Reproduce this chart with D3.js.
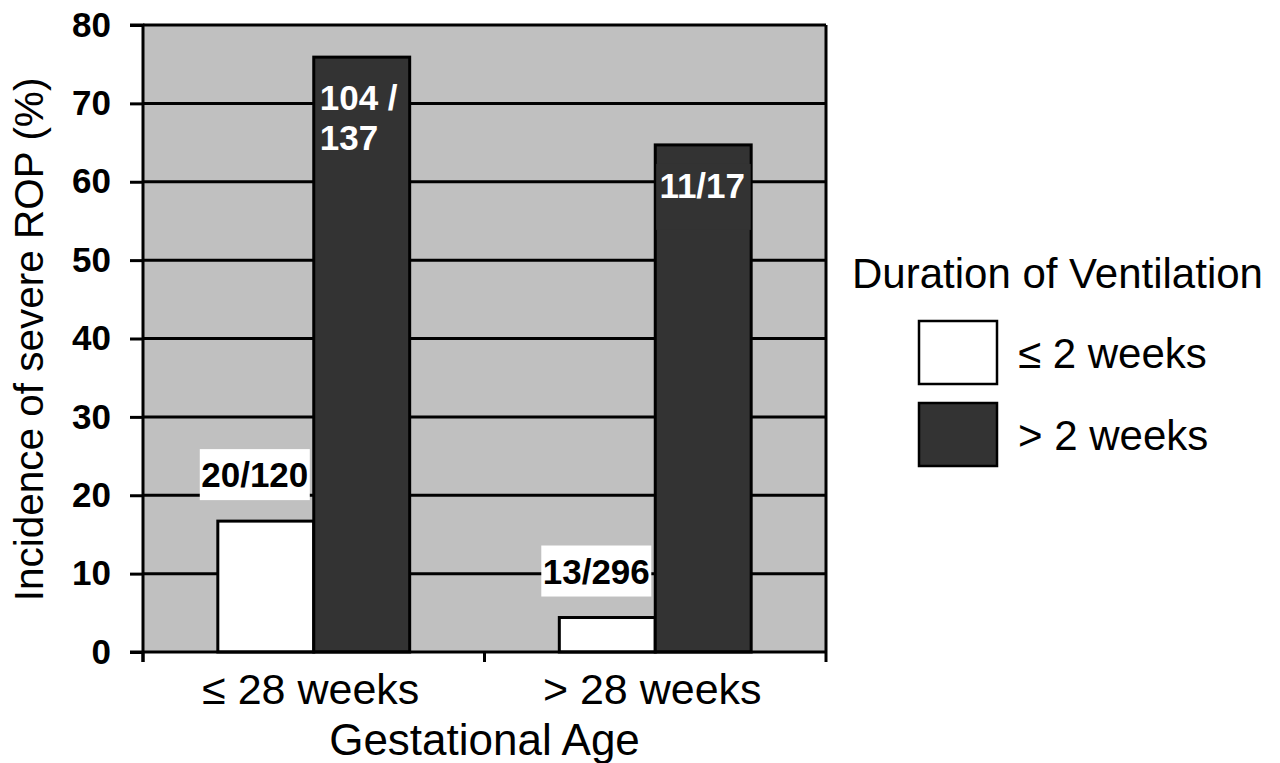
<!DOCTYPE html>
<html><head><meta charset="utf-8">
<script src="https://cdn.jsdelivr.net/npm/d3@7"></script>
<style>body{margin:0;background:#fff}svg{display:block;font-family:"Liberation Sans",Arial,sans-serif}</style>
</head><body><svg id="c" width="1280" height="763"></svg>
<script>
const categories = ["\u2264 28 weeks", "> 28 weeks"];
const seriesNames = ["\u2264 2 weeks", "> 2 weeks"];
const shortVent = [16.7, 4.4];
const longVent = [75.9, 64.7];
const shortLabels = ["20/120", "13/296"];
const longLabels = [["104 /", "137"], ["11/17"]];
const yTicks = [0, 10, 20, 30, 40, 50, 60, 70, 80];
const colors = ["#ffffff", "#333333"];

const svg = d3.select("#c");
const L = 143, R = 826, T = 25, B = 652;
const x = d3.scaleBand().domain(categories).range([L, R]).paddingInner(0).paddingOuter(0);
const y = d3.scaleLinear().domain([0, 80]).range([B, T]);
const xs = d3.scaleBand().domain([0, 1]).range([0, x.bandwidth()]).paddingInner(0).paddingOuter(0.78);

svg.append("rect").attr("x", L).attr("y", T).attr("width", R - L).attr("height", B - T).attr("fill", "#c0c0c0");

// gridlines
svg.append("g").selectAll("line").data(yTicks.filter(d => d > 0)).join("line")
  .attr("x1", L).attr("x2", R).attr("y1", d => y(d)).attr("y2", d => y(d))
  .attr("stroke", "#000").attr("stroke-width", 3);
svg.append("line").attr("x1", R).attr("x2", R).attr("y1", T).attr("y2", B).attr("stroke", "#000").attr("stroke-width", 3);

const data = [];
categories.forEach((c, i) => {
  data.push({c, s: 0, v: shortVent[i]});
  data.push({c, s: 1, v: longVent[i]});
});
svg.append("g").selectAll("rect").data(data).join("rect")
  .attr("x", d => x(d.c) + xs(d.s)).attr("width", xs.bandwidth())
  .attr("y", d => y(d.v)).attr("height", d => B - y(d.v))
  .attr("fill", d => colors[d.s]).attr("stroke", "#000").attr("stroke-width", 3);

// y axis
const yAxis = d3.axisLeft(y).tickValues(yTicks).tickSize(13).tickPadding(19);
const gy = svg.append("g").attr("transform", `translate(${L},0)`).call(yAxis);
gy.select(".domain").attr("stroke-width", 3).attr("d", `M-13,${T}H0V${B + 10}`);
gy.selectAll(".tick line").attr("stroke-width", 3);
gy.selectAll(".tick text").attr("font-size", 35).attr("font-weight", "bold").attr("fill", "#000")
  .attr("font-family", "Liberation Sans, Arial, sans-serif");

// x axis
const xt = d3.scaleLinear().domain([0, 2]).range([L, R]);
const gx = svg.append("g").attr("transform", `translate(0,${B})`);
gx.append("line").attr("x1", L - 13).attr("x2", R).attr("y1", 0).attr("y2", 0).attr("stroke", "#000").attr("stroke-width", 3);
gx.selectAll("line.t").data([0, 1, 2]).join("line").attr("class", "t")
  .attr("x1", d => xt(d)).attr("x2", d => xt(d)).attr("y1", 0).attr("y2", 10)
  .attr("stroke", "#000").attr("stroke-width", 3);
gx.selectAll("text").data(categories).join("text")
  .attr("x", d => x(d) + x.bandwidth() / 2 - 3).attr("y", 52)
  .attr("text-anchor", "middle").attr("font-size", 43).text(d => d);

svg.append("text").attr("x", (L + R) / 2).attr("y", 755).attr("text-anchor", "middle")
  .attr("font-size", 44).text("Gestational Age");
svg.append("text").attr("transform", `translate(43,${(T + B) / 2 + 1}) rotate(-90)`).attr("text-anchor", "middle")
  .attr("font-size", 40.5).text("Incidence of severe ROP (%)");

// short labels (white boxes)
const sl = svg.append("g");
categories.forEach((c, i) => {
  const cx = x(c) + xs(0) + xs.bandwidth() / 2 - 11;
  const ty = y(shortVent[i]) - 47;
  sl.append("rect").attr("x", cx - 55).attr("y", ty - 25).attr("width", 110).attr("height", 51).attr("fill", "#fff");
  sl.append("text").attr("x", cx).attr("y", ty + 13).attr("text-anchor", "middle")
    .attr("font-size", 35).attr("font-weight", "bold").text(shortLabels[i]);
});
// long labels
categories.forEach((c, i) => {
  const lines = longLabels[i];
  const multi = lines.length > 1;
  const ty0 = y(longVent[i]) + 53;
  if (!multi) {
    const bx = x(c) + xs(1);
    svg.append("rect").attr("x", bx + 1).attr("y", ty0 - 34).attr("width", xs.bandwidth() - 1.5).attr("height", 66)
      .attr("fill", colors[1]);
  }
  lines.forEach((t, k) => {
    const tx = multi ? x(c) + xs(1) + 6 : x(c) + xs(1) + xs.bandwidth() / 2 - 1;
    svg.append("text").attr("x", tx).attr("y", ty0 + k * 40)
      .attr("text-anchor", multi ? "start" : "middle")
      .attr("font-size", 35).attr("font-weight", "bold").attr("fill", "#fff").text(t);
  });
});

// legend
svg.append("text").attr("x", 852).attr("y", 288).attr("font-size", 42).text("Duration of Ventilation");
const lg = svg.append("g");
seriesNames.forEach((s, i) => {
  const yy = 321 + i * 82;
  lg.append("rect").attr("x", 919).attr("y", yy).attr("width", 78).attr("height", 63)
    .attr("fill", colors[i]).attr("stroke", "#000").attr("stroke-width", 2.5);
  lg.append("text").attr("x", 1018).attr("y", yy + 47).attr("font-size", 42).text(s);
});
</script></body></html>
